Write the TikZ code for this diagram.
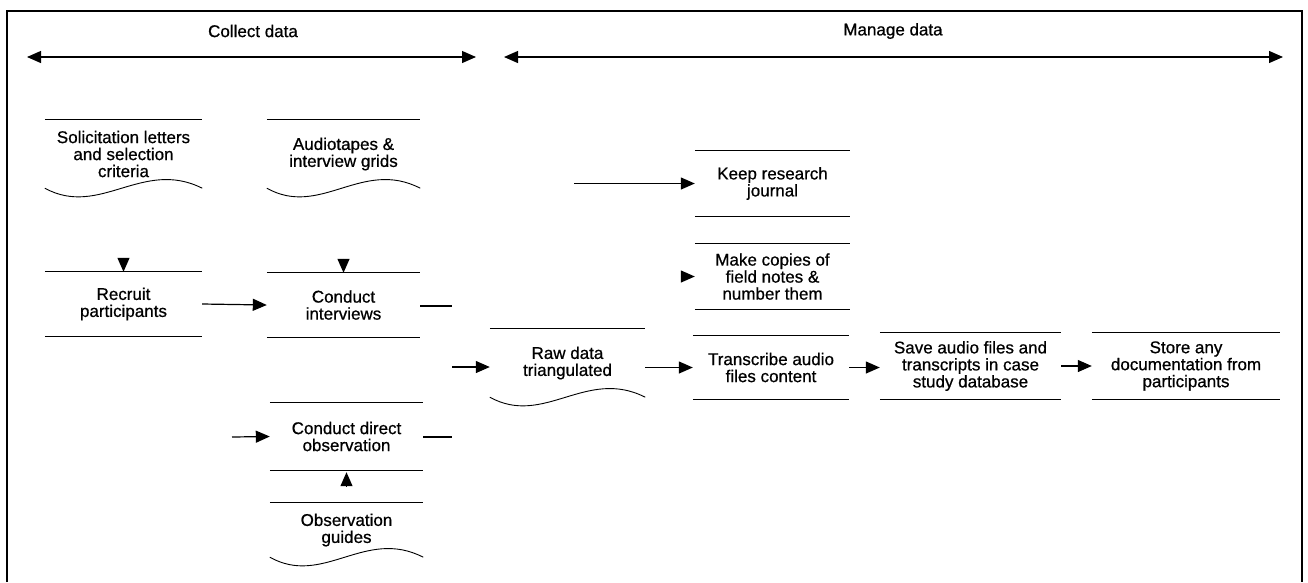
\documentclass[tikz,border=0pt]{standalone}
\usepackage{fontspec}
\setmainfont{Liberation Sans}[FakeBold=0.7]
\usetikzlibrary{arrows.meta,calc}

\begin{document}
\begin{tikzpicture}[x=1pt,y=-1pt,
  every node/.style={font=\fontsize{17}{17}\selectfont, align=center, inner sep=0pt},
  box/.style 2 args={minimum width=#1, minimum height=#2},
  ln/.style={line width=1.2pt},
  wave/.style={line width=0.9pt},
  tip/.tip={Triangle[length=14pt,width=12pt]},
  arr/.style={line width=1.2pt, -tip},
  dbl/.style={line width=1.2pt, tip-tip},
  frame/.style={line width=1.8pt}
]
\useasboundingbox (0,0) rectangle (1308,582);

% outer frame (open at the bottom)
\draw[frame] (7,582) -- (7,11) -- (1302,11) -- (1302,582);

% phase headings
\node (hc) at (253,31) {Collect data};
\node (hm) at (893,31) {Manage data};
\coordinate (c1) at (27,57);
\coordinate (c2) at (476,57);
\coordinate (m1) at (504,57);
\coordinate (m2) at (1283,57);
\draw[dbl] (c1) -- (c2);
\draw[dbl] (m1) -- (m2);

% documents
\node[box={157}{68}] (sol)   at (123.5,154) {Solicitation letters\\and selection\\criteria};
\node[box={153}{68}] (aud)   at (343.5,154) {Audiotapes \&\\interview grids};
\node[box={153}{54}] (guide) at (346.5,530) {Observation\\guides};
\node[box={155}{68}] (raw)   at (567.5,363) {Raw data\\triangulated};

% processes
\node[box={157}{64}] (rec)    at (123.5,304)   {Recruit\\participants};
\node[box={153}{64}] (int)    at (343.5,305)   {Conduct\\interviews};
\node[box={153}{67}] (dobs)   at (346.5,436.5) {Conduct direct\\observation};
\node[box={155}{65}] (keep)   at (772.5,183.5) {Keep research\\journal};
\node[box={155}{65}] (copies) at (772.5,276.5) {Make copies of\\field notes \&\\number them};
\node[box={156}{63}] (trans)  at (771,367.5)   {Transcribe audio\\files content};
\node[box={181}{66}] (save)   at (970.5,366)   {Save audio files and\\transcripts in case\\study database};
\node[box={188}{66}] (store)  at (1186,366)    {Store any\\documentation from\\participants};

% process outlines: top and bottom rules
\foreach \n in {rec,int,dobs,keep,copies,trans,save,store}
  \draw[ln] (\n.north west) -- (\n.north east) (\n.south west) -- (\n.south east);

% document outlines: top rule and wavy bottom
\foreach \n in {sol,aud,guide,raw}{
  \draw[ln] (\n.north west) -- (\n.north east);
  \draw[wave] (\n.south west)
    .. controls ($(\n.south west)!0.35!(\n.south east)+(0,30)$)
       and ($(\n.south west)!0.62!(\n.south east)+(0,-30)$) .. (\n.south east);
}

% connectors
\draw[arr] ([yshift=14pt]rec.north) -- (rec.north);
\draw[arr] ([yshift=14pt]int.north) -- (int.north);
\draw[arr] ([yshift=-16pt]dobs.south) -- ([yshift=-2pt]dobs.south);
\draw[arr] (rec.east) -- (int.west);

\coordinate (oin) at (232,437);
\draw[arr] (oin) -- (dobs.west);

\coordinate (j1) at (452,306);
\coordinate (j2) at (452,367);
\coordinate (j3) at (452,437);
\draw[ln] (int.east |- j1) -- (j1);
\draw[ln] (dobs.east |- j3) -- (j3);
\draw[arr] (j2) -- (j2 -| raw.west);

\draw[arr] (trans.west -| raw.east) -- (trans.west);
\draw[arr] (trans.east) -- (trans.east -| save.west);
\draw[arr] (save.east) -- (store.west);

\coordinate (kin) at (574,183.5);
\draw[arr] (kin) -- (keep.west);
\draw[arr] ([xshift=-14pt]copies.west) -- (copies.west);
\end{tikzpicture}
\end{document}
